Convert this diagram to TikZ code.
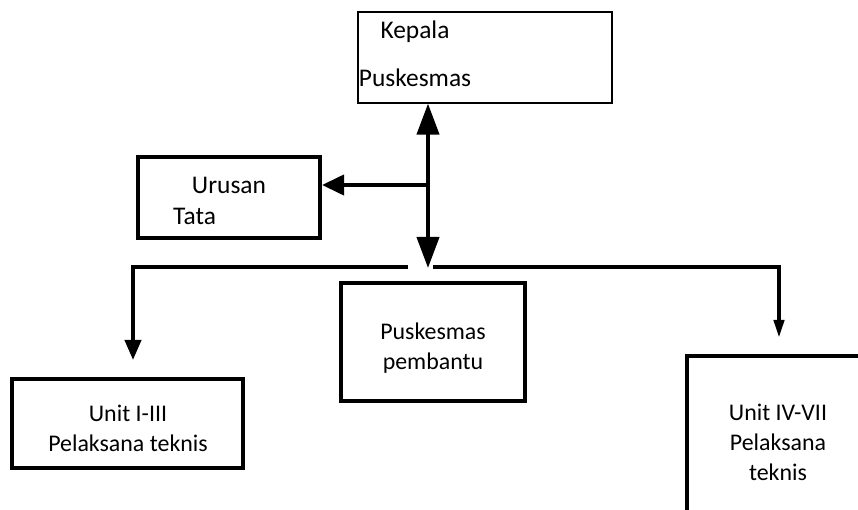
\documentclass[tikz,border=0pt]{standalone}
\usepackage{fontspec}
\setmainfont{Carlito}
\usetikzlibrary{positioning, arrows.meta}

\begin{document}
\begin{tikzpicture}[
  x=0.03cm, y=-0.03cm,
  box/.style={rectangle, draw, line width=0.12cm, inner sep=0pt},
  thinbox/.style={rectangle, draw, line width=1pt, inner sep=0pt},
  txt/.style={inner sep=0pt, font=\fontsize{21.7pt}{27pt}\selectfont},
  lowtxt/.style={inner sep=0pt, align=center, font=\fontsize{20.4pt}{25.5pt}\selectfont},
  arr/.style={line width=0.12cm},
  bigtip/.style={arr, {Triangle[length=0.93cm, width=0.66cm]}-{Triangle[length=0.93cm, width=0.66cm]}},
  midtip/.style={arr, -{Triangle[length=0.66cm, width=0.6cm]}},
  smalltip/.style={arr, -{Triangle[length=0.6cm, width=0.48cm]}},
  slimtip/.style={arr, -{Triangle[length=0.54cm, width=0.3cm]}}
]
  \clip (0,0) rectangle (858,510);

  % boxes
  \node[thinbox, minimum width=7.62cm, minimum height=2.73cm] (kepala) at (485,57.5) {};
  \node[txt, align=center, font=\fontsize{21.7pt}{40.8pt}\selectfont] (kepalaText) at (415,54) {Kepala\\Puskesmas};
  \node[box, minimum width=5.46cm, minimum height=2.43cm] (urusan) at (229,197.5) {};
  \node[txt, align=left, anchor=west] (urusanText) at (173,201) {\hspace*{16pt}Urusan\\Tata};
  \node[box, minimum width=5.52cm, minimum height=3.54cm] (pustu) at (433,342) {};
  \node[lowtxt] (pustuText) at (433,348) {Puskesmas\\pembantu};
  \node[box, minimum width=6.93cm, minimum height=2.67cm] (unitA) at (127.5,423.5) {};
  \node[lowtxt] (unitAText) at (128,428) {Unit I-III\\Pelaksana teknis};
  \node[box, minimum width=5.46cm, minimum height=5.16cm] (unitB) at (778,442) {};
  \node[lowtxt] (unitBText) at (778,442) {Unit IV-VII\\Pelaksana\\teknis};

  % connectors
  \coordinate (hub) at (428,268);
  \coordinate (fork) at (428,185);
  \coordinate (splitL) at (408,267);
  \coordinate (splitR) at (433,267);
  \coordinate (dropL) at (133,360);
  \coordinate (dropR) at (779,338);

  \draw[bigtip] (hub |- kepala.south) -- (hub);
  \draw[midtip] (fork) -- (fork -| urusan.east);
  \draw[smalltip] (splitL) -| (dropL);
  \draw[slimtip] (splitR) -| (dropR);
\end{tikzpicture}
\end{document}
